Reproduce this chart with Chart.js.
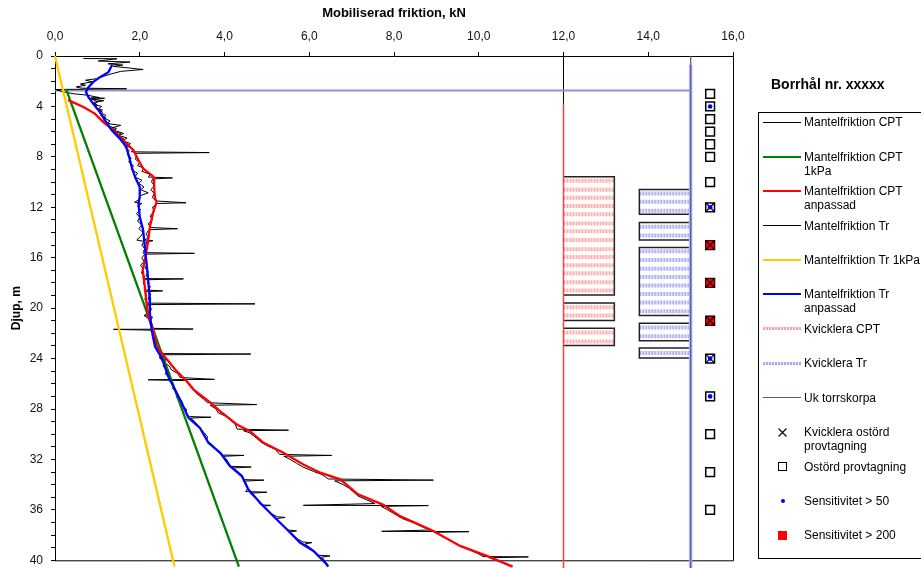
<!DOCTYPE html>
<html>
<head>
<meta charset="utf-8">
<script src="https://cdn.jsdelivr.net/npm/chart.js@4.4.1/dist/chart.umd.min.js"></script>
<style>
  html, body { margin: 0; padding: 0; background: #fff; }
  #wrap { position: relative; width: 921px; height: 568px; overflow: hidden; font-family: "Liberation Sans", Arial, sans-serif; color: #000; }
  #boreTitle { position: absolute; left: 771px; top: 75px; font-size: 14px; font-weight: bold; line-height: 18px; white-space: nowrap; }
  #legend { position: absolute; left: 758px; top: 112px; width: 200px; height: 445px; border: 1px solid #000; }
  .row { position: absolute; left: 0; width: 200px; height: 30px; }
  .txt { position: absolute; left: 45px; top: 0; font-size: 12px; line-height: 14px; white-space: nowrap; }
  .sample { position: absolute; left: 4px; width: 38px; }
  .sym { position: absolute; box-sizing: border-box; }
</style>
</head>
<body>
<div id="wrap">
  <canvas id="chart" width="921" height="568"></canvas>
  <div id="boreTitle">Borrhål nr. xxxxx</div>
  <div id="legend"></div>
</div>
<script>
const xTickLabels = ["0,0", "2,0", "4,0", "6,0", "8,0", "10,0", "12,0", "14,0", "16,0"];
const yTickLabels = ["0", "4", "8", "12", "16", "20", "24", "28", "32", "36", "40"];

// [friktion kN, djup m]
const cptRaw = [
  [0.67, 0.2], [1.46, 0.22], [1.02, 0.4], [1.77, 0.48], [1.25, 0.62], [1.6, 0.72], [1.37, 0.82],
  [2.08, 1.07], [1.55, 1.22], [1.3, 1.45], [1.2, 1.55], [0.98, 1.8], [0.72, 1.92], [0.88, 2.05],
  [0.6, 2.22], [0.72, 2.32], [0.5, 2.45], [0.62, 2.55], [1.69, 2.6], [0.0, 2.66], [0.2, 2.85],
  [0.45, 3.0], [0.75, 3.1], [1.05, 3.3], [0.82, 3.42], [1.15, 3.55], [0.88, 3.7], [1.0, 3.9],
  [0.95, 4.1], [1.12, 4.3], [1.05, 4.5], [1.2, 4.7], [1.15, 4.9], [1.3, 5.15], [1.22, 5.35],
  [1.55, 5.5], [1.35, 5.7], [1.45, 5.95], [1.62, 6.15], [1.5, 6.3], [1.7, 6.5], [1.6, 6.7],
  [1.78, 6.95], [1.7, 7.15], [1.85, 7.4], [1.8, 7.6], [3.64, 7.66], [1.88, 7.72], [1.92, 7.95],
  [1.9, 8.2], [2.0, 8.45], [1.95, 8.7], [2.1, 8.9], [2.05, 9.15], [2.25, 9.4], [2.2, 9.6],
  [2.77, 9.67], [2.3, 9.75], [2.28, 10.0], [2.35, 10.3], [2.26, 10.6], [2.34, 10.9], [2.3, 11.2],
  [2.38, 11.5], [3.09, 11.64], [2.42, 11.7], [2.3, 12.0], [2.34, 12.3], [2.25, 12.7], [2.3, 13.0],
  [2.2, 13.3], [2.25, 13.6], [2.89, 13.7], [2.22, 13.78], [2.15, 14.1], [2.2, 14.4], [2.12, 14.6],
  [2.31, 14.65], [2.15, 14.75], [2.18, 15.1], [2.1, 15.4], [2.15, 15.6], [3.29, 15.65], [2.12, 15.72],
  [2.05, 16.0], [2.1, 16.3], [2.02, 16.6], [2.08, 16.9], [2.04, 17.2], [2.12, 17.5], [2.08, 17.65],
  [3.03, 17.68], [2.12, 17.75], [2.08, 18.0], [2.14, 18.3], [2.1, 18.55], [2.54, 18.63], [2.12, 18.7],
  [2.16, 19.0], [2.12, 19.3], [2.18, 19.6], [4.72, 19.66], [2.2, 19.72], [2.15, 20.0], [2.2, 20.3],
  [2.12, 20.6], [2.22, 20.9], [2.25, 21.3], [2.3, 21.6], [3.26, 21.66], [1.38, 21.68], [2.3, 21.75],
  [2.35, 22.1], [2.3, 22.4], [2.4, 22.7], [2.36, 23.0], [2.45, 23.3], [2.5, 23.6], [4.62, 23.64],
  [2.55, 23.7], [2.62, 24.0], [2.58, 24.3], [2.7, 24.6], [2.75, 24.9], [2.9, 25.2], [2.95, 25.5],
  [3.76, 25.65], [2.2, 25.68], [3.1, 25.75], [3.15, 26.0], [3.25, 26.4], [3.35, 26.8], [3.5, 27.2],
  [3.6, 27.5], [4.76, 27.65], [3.66, 27.7], [3.8, 28.0], [3.85, 28.3], [4.05, 28.6], [4.15, 28.9],
  [4.25, 29.2], [4.3, 29.6], [5.51, 29.68], [4.45, 29.72], [4.6, 29.9], [4.75, 30.3], [4.85, 30.6],
  [5.0, 30.9], [5.2, 31.2], [5.3, 31.6], [6.53, 31.68], [5.4, 31.75], [5.55, 32.0], [5.7, 32.3],
  [5.85, 32.6], [6.1, 32.95], [6.3, 33.2], [6.45, 33.55], [8.93, 33.64], [6.6, 33.7], [6.8, 34.0],
  [6.95, 34.3], [7.05, 34.6], [7.15, 34.9], [7.35, 35.2], [7.55, 35.5], [5.86, 35.64], [8.81, 35.66],
  [7.7, 35.72], [7.85, 36.0], [8.0, 36.3], [8.2, 36.7], [8.45, 37.0], [8.7, 37.4], [8.85, 37.6],
  [7.71, 37.7], [9.77, 37.73], [8.95, 37.78], [9.15, 38.1], [9.35, 38.5], [9.55, 38.85], [9.8, 39.2],
  [10.0, 39.5], [10.1, 39.7], [11.17, 39.73], [10.25, 39.8], [10.5, 40.1], [10.7, 40.4]
];

const trRaw = [
  [0.85, 3.3], [1.17, 3.35], [0.9, 3.45], [1.0, 3.65], [0.92, 3.85], [1.1, 4.0], [1.02, 4.2],
  [1.12, 4.45], [1.08, 4.7], [1.2, 4.9], [1.15, 5.1], [1.28, 5.35], [1.25, 5.55], [1.45, 5.75],
  [1.38, 5.95], [1.55, 6.15], [1.48, 6.35], [1.62, 6.55], [1.58, 6.8], [1.7, 7.0], [1.65, 7.25],
  [1.75, 7.5], [1.7, 7.8], [1.8, 8.1], [1.74, 8.4], [1.85, 8.7], [1.8, 9.0], [1.95, 9.3],
  [1.88, 9.6], [2.05, 9.85], [1.98, 10.1], [2.1, 10.4], [2.02, 10.6], [2.2, 10.85], [2.0, 11.1],
  [1.98, 11.4], [1.88, 11.6], [2.05, 11.7], [1.95, 11.9], [2.02, 12.2], [1.92, 12.5], [2.0, 12.8],
  [1.95, 13.1], [2.05, 13.4], [1.98, 13.7], [2.08, 14.0], [2.02, 14.3], [1.93, 14.6], [2.1, 14.7],
  [2.05, 15.0], [2.12, 15.3], [2.08, 15.6], [2.15, 15.9], [2.1, 16.2], [2.18, 16.5], [2.12, 16.8],
  [2.2, 17.1], [2.15, 17.4], [2.22, 17.7], [2.18, 18.0], [2.25, 18.3], [2.2, 18.6], [2.26, 18.9],
  [2.2, 19.2], [2.25, 19.5], [2.22, 19.8], [2.28, 20.1], [2.2, 20.4], [2.1, 20.6], [2.3, 20.7],
  [2.25, 21.0], [2.3, 21.3], [2.28, 21.6], [2.35, 21.9], [2.3, 22.2], [2.38, 22.5], [2.35, 22.8],
  [2.42, 23.1], [2.4, 23.4], [2.5, 23.7], [2.48, 24.0], [2.58, 24.3], [2.55, 24.6], [2.65, 24.9],
  [2.6, 25.2], [2.72, 25.5], [2.7, 25.8], [2.8, 26.1], [2.78, 26.4], [2.9, 26.8], [2.88, 27.1],
  [3.0, 27.4], [2.98, 27.7], [3.1, 28.0], [3.08, 28.3], [3.17, 28.6], [3.68, 28.65], [3.2, 28.72],
  [3.3, 29.0], [3.38, 29.3], [3.45, 29.6], [3.52, 29.9], [3.6, 30.2], [3.58, 30.5], [3.7, 30.8],
  [3.78, 31.1], [3.85, 31.4], [3.93, 31.65], [4.46, 31.68], [3.98, 31.75], [4.05, 32.0], [4.1, 32.3],
  [4.15, 32.55], [4.63, 32.6], [4.2, 32.68], [4.3, 32.9], [4.38, 33.2], [4.45, 33.6], [4.93, 33.64],
  [4.48, 33.72], [4.52, 34.0], [4.55, 34.3], [4.5, 34.55], [5.0, 34.6], [4.6, 34.68], [4.7, 34.95],
  [4.8, 35.3], [4.85, 35.6], [5.09, 35.64], [4.9, 35.72], [5.0, 36.0], [5.1, 36.3], [5.25, 36.55],
  [5.43, 36.6], [5.2, 36.7], [5.3, 36.95], [5.4, 37.3], [5.5, 37.6], [5.7, 37.67], [5.55, 37.75],
  [5.62, 38.0], [5.72, 38.3], [5.85, 38.55], [6.06, 38.6], [5.9, 38.7], [6.0, 38.95], [6.1, 39.25],
  [6.2, 39.6], [6.49, 39.65], [6.3, 39.75], [6.38, 40.1], [6.45, 40.4]
];

const cptAdjusted = [
  [0.31, 3.5], [0.67, 4.05], [0.94, 4.57], [1.14, 5.24], [1.38, 5.9], [1.61, 6.68], [1.85, 7.48],
  [1.97, 8.27], [2.08, 8.93], [2.3, 9.5], [2.34, 9.7], [2.34, 10.38], [2.36, 11.3], [2.4, 11.56],
  [2.32, 12.36], [2.24, 13.54], [2.19, 14.86], [2.12, 16.18], [2.07, 16.97], [2.12, 18.29],
  [2.16, 19.6], [2.2, 20.66], [2.32, 21.7], [2.4, 23.0], [2.6, 23.9], [2.87, 25.0], [3.11, 25.8],
  [3.27, 26.46], [3.66, 27.47], [3.9, 28.18], [4.29, 29.23], [4.6, 29.76], [4.92, 30.68],
  [5.39, 31.47], [5.86, 32.4], [6.26, 33.05], [6.73, 33.58], [7.15, 34.77], [7.75, 35.6],
  [8.14, 36.5], [8.93, 37.67], [9.56, 38.86], [10.19, 39.65], [10.8, 40.5]
];

const trAdjusted = [
  [1.35, 0.7], [1.26, 1.28], [1.06, 1.68], [0.9, 2.07], [0.79, 2.47], [0.73, 2.86], [0.79, 3.26],
  [0.9, 3.78], [1.06, 4.45], [1.18, 5.1], [1.34, 5.9], [1.53, 6.55], [1.68, 7.2], [1.75, 8.0],
  [1.81, 8.8], [1.89, 9.6], [2.0, 10.4], [2.0, 11.2], [1.97, 11.7], [2.0, 12.75], [2.08, 13.8],
  [2.12, 15.13], [2.16, 16.44], [2.2, 17.76], [2.23, 19.08], [2.24, 20.4], [2.28, 21.72],
  [2.36, 23.04], [2.52, 23.96], [2.56, 24.35], [2.67, 25.4], [2.83, 26.46], [2.99, 27.5],
  [3.15, 28.7], [3.42, 29.5], [3.62, 30.68], [3.9, 31.47], [4.13, 32.53], [4.41, 33.32],
  [4.56, 34.37], [4.84, 35.43], [5.15, 36.49], [5.47, 37.54], [5.78, 38.59], [6.1, 39.26],
  [6.37, 40.17], [6.45, 40.5]
];

const cpt1kPa = [[0.26, 2.6], [4.34, 40.5]];
const tr1kPa = [[0.0, 0.0], [2.82, 40.5]];

const torrskorpaDepth = 2.73;
const torrskorpaX = [0, 15];

const kvickCptX = [12, 13.2];
const kvickCptStripes = [9.9, 10.6, 11.25, 11.9, 12.56, 13.28, 13.9, 14.6, 15.33, 15.94, 16.6, 17.23, 17.94, 18.6, 19.92, 20.59, 21.93, 22.64];
const kvickCptBoxes = [[9.58, 18.95], [19.6, 20.98], [21.6, 22.96]];
const kvickCptLineTop = 3.76;

const kvickTrX = [13.79, 15];
const kvickTrStripes = [10.9, 11.57, 12.28, 13.54, 14.23, 15.49, 16.18, 16.87, 17.52, 18.21, 18.87, 19.56, 20.24, 21.53, 22.22, 23.56];
const kvickTrBoxes = [[10.59, 12.56], [13.2, 14.6], [15.18, 20.58], [21.19, 22.59], [23.17, 23.96]];
const kvickTrLineTop = 0.7;

const sampleX = 15.46;
const sampleDepths = [3, 4, 5, 6, 7, 8, 10, 12, 15, 18, 21, 24, 27, 30, 33, 36];
const quickClayDepths = [12, 15, 18, 21, 24];
const sens50Depths = [4, 12, 24, 27];
const sens200Depths = [15, 18, 21];

const pts = (arr) => arr.map(([x, y]) => ({ x, y }));
const gap = { x: null, y: null };
const stripes = (depths, [x0, x1]) => depths.flatMap((d) => [{ x: x0, y: d }, { x: x1, y: d }, gap]);
const boxes = (list, [open, far]) => list.flatMap(([t, b]) => [
  { x: open, y: t }, { x: far, y: t }, { x: far, y: b }, { x: open, y: b }, gap
]);
const column = (depths) => depths.map((d) => ({ x: sampleX, y: d }));

function line(data, color, width, extra) {
  return Object.assign({
    data, showLine: true, borderColor: color, backgroundColor: color,
    borderWidth: width, pointRadius: 0, tension: 0, clip: false, spanGaps: false,
  }, extra || {});
}

function marker(data, style, radius, fill, border, width) {
  return {
    data, showLine: false, pointStyle: style, pointRadius: radius,
    backgroundColor: fill, borderColor: border, pointBorderWidth: width, clip: false,
  };
}

const frame = {
  id: "frame",
  beforeDatasetsDraw(chart) {
    const { ctx, chartArea: a } = chart;
    ctx.save();
    ctx.strokeStyle = "#000";
    ctx.lineWidth = 1;
    ctx.beginPath();
    ctx.moveTo(a.left, a.bottom + 0.5);
    ctx.lineTo(a.right + 0.5, a.bottom + 0.5);
    ctx.lineTo(a.right + 0.5, a.top);
    ctx.stroke();
    ctx.restore();
  },
};

Chart.defaults.font.family = '"Liberation Sans", Arial, sans-serif';
Chart.defaults.color = "#000";

new Chart(document.getElementById("chart"), {
  type: "scatter",
  data: {
    datasets: [
      marker(column(sens50Depths), "circle", 2.3, "#0000ff", "#0000ff", 0),
      marker(column(quickClayDepths), "crossRot", 6, "#000", "#000", 1.2),
      marker(column(sens200Depths), "rect", 6.2, "#ff0000", "#400", 1),
      marker(column(sampleDepths), "rect", 6.2, "#fff", "#000", 1.5),
      line(pts(trAdjusted), "#0000ff", 2.3),
      line(pts(cptAdjusted), "#ff0000", 2.3),
      line(pts(cpt1kPa), "#008000", 2.3),
      line(pts(tr1kPa), "#ffcc00", 2.3),
      line(pts(cptRaw), "#000", 1),
      line(pts(trRaw), "#000", 1),
      line(torrskorpaX.map((x) => ({ x, y: torrskorpaDepth })), "#9494c8", 2),
      line([{ x: kvickTrX[1], y: 0 }, { x: kvickTrX[1], y: 41 }], "#5c5ca8", 1),
      line([{ x: kvickTrX[1], y: kvickTrLineTop }, { x: kvickTrX[1], y: 41 }], "#b4b4f2", 3.5),
      line([{ x: kvickCptX[0], y: kvickCptLineTop }, { x: kvickCptX[0], y: 41 }], "#ff4040", 1.5),
      line([{ x: kvickCptX[0], y: 0 }, { x: kvickCptX[0], y: 41 }], "#000", 1),
      line(boxes(kvickCptBoxes, kvickCptX), "#222", 1.5),
      line(boxes(kvickTrBoxes, [kvickTrX[1], kvickTrX[0]]), "#222", 1.5),
      line(stripes(kvickCptStripes, kvickCptX), "rgba(255,150,150,0.8)", 4, { borderDash: [2, 1] }),
      line(stripes(kvickTrStripes, kvickTrX), "rgba(160,160,245,0.85)", 4, { borderDash: [2, 1] }),
    ],
  },
  options: {
    responsive: false,
    animation: false,
    events: [],
    layout: { padding: { left: 0, top: 0, right: 188, bottom: 7 } },
    plugins: { legend: { display: false }, tooltip: { enabled: false } },
    scales: {
      x: {
        type: "linear",
        position: "top",
        min: 0,
        max: 16,
        afterFit(scale) {
          scale.height = 56;
          scale.paddingLeft = 0;
          scale.paddingRight = 0;
        },
        title: {
          display: true,
          text: "Mobiliserad friktion, kN",
          font: { size: 13, weight: "bold" },
          padding: { top: 6, bottom: 0 },
        },
        border: { display: true, color: "#000", width: 1 },
        grid: { drawOnChartArea: false, drawTicks: true, tickLength: 4, color: "#000" },
        ticks: {
          stepSize: 2,
          autoSkip: false,
          maxRotation: 0,
          padding: 8,
          font: { size: 12 },
          color: "#111",
          callback(value, index) { return xTickLabels[index]; },
        },
      },
      y: {
        type: "linear",
        reverse: true,
        min: 0,
        max: 40,
        afterFit(scale) {
          scale.width = 55;
          scale.paddingTop = 0;
          scale.paddingBottom = 0;
        },
        title: {
          display: true,
          text: "Djup, m",
          font: { size: 12, weight: "bold" },
          padding: { top: 9, bottom: 0 },
        },
        border: { display: true, color: "#000", width: 1 },
        grid: { drawOnChartArea: false, drawTicks: true, tickLength: 4, color: "#000" },
        ticks: {
          stepSize: 1,
          autoSkip: false,
          padding: 8,
          font: { size: 12 },
          color: "#111",
          callback(value) { return value % 4 === 0 ? yTickLabels[value / 4] : ""; },
        },
      },
    },
  },
  plugins: [frame],
});

// legend
const legendLabels = [
  ["Mantelfriktion CPT"],
  ["Mantelfriktion CPT", "1kPa"],
  ["Mantelfriktion CPT", "anpassad"],
  ["Mantelfriktion Tr"],
  ["Mantelfriktion Tr 1kPa"],
  ["Mantelfriktion Tr", "anpassad"],
  ["Kvicklera CPT"],
  ["Kvicklera Tr"],
  ["Uk torrskorpa"],
  ["Kvicklera ostörd", "provtagning"],
  ["Ostörd provtagning"],
  ["Sensitivitet > 50"],
  ["Sensitivitet > 200"],
];

const legendKeys = [
  { line: "#000", w: 1 },
  { line: "#008000", w: 2 },
  { line: "#ff0000", w: 2 },
  { line: "#000", w: 1 },
  { line: "#ffcc00", w: 2 },
  { line: "#0000ff", w: 2 },
  { dots: "#f5a3a3", w: 3 },
  { dots: "#a8a8ee", w: 3 },
  { line: "#5a5a9c", w: 1 },
  { sym: "cross" },
  { sym: "square" },
  { sym: "dot" },
  { sym: "red" },
];

const legendEl = document.getElementById("legend");
legendLabels.forEach((lines, i) => {
  const row = document.createElement("div");
  row.className = "row";
  row.style.top = (2.3 + i * 34.42) + "px";
  const key = legendKeys[i];
  const el = document.createElement("div");
  if (key.line || key.dots) {
    el.className = "sample";
    el.style.top = (7 - key.w / 2) + "px";
    el.style.height = key.w + "px";
    el.style.background = key.line
      ? key.line
      : `repeating-linear-gradient(90deg, ${key.dots} 0 2px, #fff0f0 2px 3px)`;
  } else {
    el.className = "sym";
    const cx = 23.7, cy = 7;
    if (key.sym === "cross") {
      el.innerHTML = '<svg width="11" height="11"><path d="M1.5 1.5L9.5 9.5M9.5 1.5L1.5 9.5" stroke="#000" stroke-width="1.1"/></svg>';
      el.style.left = (cx - 5.5) + "px"; el.style.top = (cy - 5.5) + "px";
      el.style.lineHeight = "0";
    } else if (key.sym === "square") {
      el.style.width = "9px"; el.style.height = "9px";
      el.style.border = "1.5px solid #000";
      el.style.left = (cx - 4.5) + "px"; el.style.top = (cy - 4.5) + "px";
    } else if (key.sym === "dot") {
      el.style.width = "4px"; el.style.height = "4px"; el.style.borderRadius = "50%";
      el.style.background = "#0000ff";
      el.style.left = (cx - 2) + "px"; el.style.top = (cy - 2) + "px";
    } else {
      el.style.width = "9px"; el.style.height = "9px";
      el.style.background = "#ff0000";
      el.style.left = (cx - 4.5) + "px"; el.style.top = (cy - 4.5) + "px";
    }
  }
  row.appendChild(el);
  const txt = document.createElement("div");
  txt.className = "txt";
  txt.innerHTML = lines.join("<br>");
  row.appendChild(txt);
  legendEl.appendChild(row);
});
</script>
</body>
</html>
